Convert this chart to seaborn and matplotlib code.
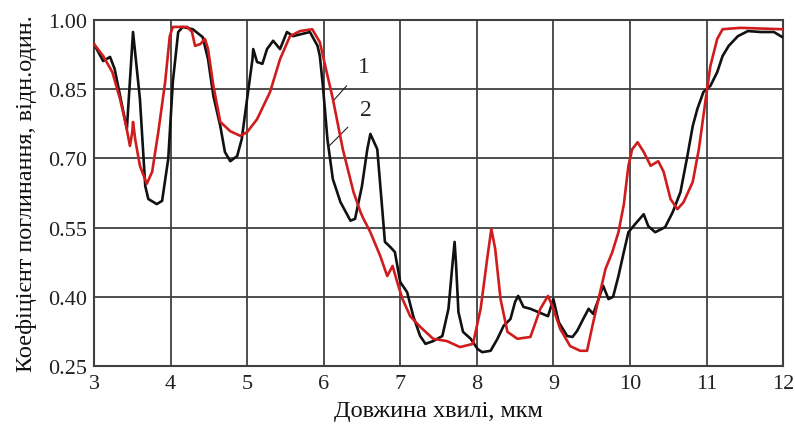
import matplotlib
matplotlib.use("Agg")
import matplotlib.pyplot as plt
import seaborn as sns
import pandas as pd

# Curve 2 (black)
black_x = [3.00, 3.12, 3.21, 3.27, 3.41, 3.43, 3.51, 3.60, 3.67, 3.71, 3.82, 3.89, 3.97, 4.03, 4.10, 4.16,
           4.29, 4.42, 4.49, 4.56, 4.65, 4.71, 4.78, 4.87, 4.93, 5.00, 5.07, 5.08, 5.13, 5.20, 5.26, 5.34,
           5.43, 5.52, 5.60, 5.82, 5.92, 5.95, 5.99, 6.05, 6.12, 6.22, 6.35, 6.41, 6.50, 6.57, 6.61, 6.70,
           6.76, 6.80, 6.87, 6.93, 7.00, 7.09, 7.17, 7.26, 7.33, 7.43, 7.55, 7.63, 7.68, 7.71, 7.73, 7.76,
           7.82, 7.92, 8.01, 8.07, 8.18, 8.27, 8.35, 8.44, 8.50, 8.54, 8.61, 8.70, 8.83, 8.93, 9.00, 9.07,
           9.18, 9.25, 9.31, 9.39, 9.46, 9.52, 9.59, 9.65, 9.72, 9.78, 9.85, 9.92, 9.98, 10.07, 10.18, 10.24,
           10.33, 10.46, 10.56, 10.66, 10.75, 10.82, 10.88, 10.96, 11.05, 11.14, 11.21, 11.29, 11.41, 11.54,
           11.71, 11.88, 11.99]
black_y = [0.948, 0.911, 0.920, 0.894, 0.779, 0.765, 0.974, 0.829, 0.640, 0.612, 0.601, 0.608, 0.699, 0.866,
           0.974, 0.985, 0.980, 0.963, 0.915, 0.835, 0.770, 0.714, 0.694, 0.705, 0.742, 0.829, 0.915, 0.937,
           0.909, 0.905, 0.937, 0.955, 0.937, 0.974, 0.965, 0.974, 0.944, 0.922, 0.857, 0.740, 0.655, 0.605,
           0.565, 0.569, 0.640, 0.720, 0.753, 0.720, 0.600, 0.519, 0.508, 0.497, 0.432, 0.410, 0.358, 0.315,
           0.298, 0.304, 0.315, 0.374, 0.467, 0.519, 0.467, 0.367, 0.324, 0.309, 0.287, 0.280, 0.283, 0.309,
           0.337, 0.352, 0.389, 0.402, 0.378, 0.374, 0.365, 0.358, 0.395, 0.345, 0.315, 0.313, 0.326, 0.352,
           0.374, 0.363, 0.395, 0.424, 0.395, 0.400, 0.445, 0.497, 0.540, 0.558, 0.579, 0.553, 0.540, 0.551,
           0.584, 0.627, 0.705, 0.770, 0.807, 0.844, 0.857, 0.887, 0.922, 0.944, 0.965, 0.976, 0.974, 0.974,
           0.963]

# Curve 1 (red)
red_x = [3.00, 3.12, 3.24, 3.34, 3.41, 3.47, 3.50, 3.51, 3.54, 3.60, 3.69, 3.76, 3.84, 3.93, 3.99, 4.03,
         4.22, 4.28, 4.32, 4.39, 4.45, 4.49, 4.56, 4.65, 4.78, 4.91, 5.00, 5.13, 5.30, 5.43, 5.56, 5.69,
         5.85, 5.95, 6.06, 6.12, 6.25, 6.39, 6.48, 6.52, 6.61, 6.74, 6.83, 6.90, 6.96, 7.03, 7.13, 7.26,
         7.43, 7.61, 7.78, 7.95, 8.05, 8.14, 8.19, 8.24, 8.31, 8.40, 8.53, 8.70, 8.83, 8.93, 9.00, 9.09,
         9.22, 9.35, 9.44, 9.51, 9.59, 9.68, 9.77, 9.85, 9.92, 9.98, 10.03, 10.10, 10.18, 10.27, 10.37,
         10.44, 10.53, 10.62, 10.70, 10.82, 10.90, 10.99, 11.05, 11.14, 11.21, 11.44, 11.99]
red_y = [0.948, 0.922, 0.887, 0.829, 0.779, 0.727, 0.757, 0.779, 0.740, 0.684, 0.645, 0.671, 0.757, 0.866,
         0.965, 0.985, 0.985, 0.974, 0.944, 0.948, 0.959, 0.937, 0.857, 0.779, 0.759, 0.749, 0.757, 0.785,
         0.844, 0.915, 0.965, 0.976, 0.980, 0.952, 0.872, 0.829, 0.720, 0.627, 0.584, 0.569, 0.540, 0.488,
         0.445, 0.467, 0.432, 0.395, 0.358, 0.335, 0.309, 0.304, 0.291, 0.298, 0.374, 0.488, 0.547, 0.504,
         0.395, 0.324, 0.309, 0.313, 0.374, 0.402, 0.374, 0.330, 0.293, 0.283, 0.283, 0.337, 0.395, 0.460,
         0.497, 0.540, 0.600, 0.684, 0.720, 0.735, 0.714, 0.684, 0.694, 0.671, 0.612, 0.590, 0.605, 0.649,
         0.720, 0.829, 0.900, 0.959, 0.980, 0.983, 0.980]

x_ticks = [3, 4, 5, 6, 7, 8, 9, 10, 11, 12]
y_ticks = [0.25, 0.40, 0.55, 0.70, 0.85, 1.00]
y_tick_labels = ["0.25", "0.40", "0.55", "0.70", "0.85", "1.00"]
x_label = "Довжина хвилі, мкм"
y_label = "Коефіцієнт поглинання, відн.один."

sns.set_style("white")
plt.rcParams["font.family"] = ["Liberation Serif", "DejaVu Serif"]

fig = plt.figure(figsize=(7.95, 4.27), dpi=100)
ax = fig.add_axes([0.1182, 0.1405, 0.8668, 0.8103])

df_b = pd.DataFrame({"x": black_x, "y": black_y})
df_r = pd.DataFrame({"x": red_x, "y": red_y})
sns.lineplot(data=df_b, x="x", y="y", ax=ax, color="#111111", linewidth=1.9, sort=False, estimator=None, zorder=3)
sns.lineplot(data=df_r, x="x", y="y", ax=ax, color="#d01c1c", linewidth=1.9, sort=False, estimator=None, zorder=4)

ax.set_xlim(3, 12)
ax.set_ylim(0.25, 1.00)
ax.set_xticks(x_ticks)
ax.set_xticklabels([str(t) for t in x_ticks])
ax.set_yticks(y_ticks)
ax.set_yticklabels(y_tick_labels)
ax.grid(True, color="#404040", linewidth=1.3)
ax.set_axisbelow(True)
for s in ax.spines.values():
    s.set_color("#404040")
    s.set_linewidth(1.5)
ax.tick_params(axis="both", labelsize=16, length=0, colors="#222222")
ax.tick_params(axis="x", pad=6)
ax.tick_params(axis="y", pad=5)
ax.set_xlabel(x_label, fontsize=17.5, color="#111111", labelpad=5)
ax.set_ylabel(y_label, fontsize=17.5, color="#111111", labelpad=8)

# curve labels with leader lines
ax.annotate("1", xy=(6.12, 0.824), xytext=(6.53, 0.90), fontsize=17, ha="center", va="center",
            arrowprops=dict(arrowstyle="-", color="#222222", lw=0.8, shrinkA=9, shrinkB=0))
ax.annotate("2", xy=(6.06, 0.725), xytext=(6.55, 0.807), fontsize=17, ha="center", va="center",
            arrowprops=dict(arrowstyle="-", color="#222222", lw=0.8, shrinkA=9, shrinkB=0))

fig.savefig("out.png", dpi=100)
